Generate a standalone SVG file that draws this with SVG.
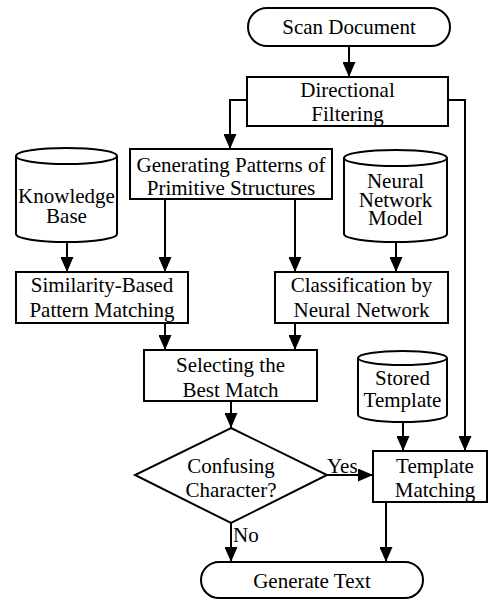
<svg xmlns="http://www.w3.org/2000/svg" width="489" height="600" viewBox="0 0 489 600">
<style>
.s{fill:#fff;stroke:#000;stroke-width:2}
.c{fill:none;stroke:#000;stroke-width:2}
</style>
<defs>
<marker id="a" viewBox="0 0 15 13" refX="15" refY="6.5" markerWidth="15" markerHeight="13" markerUnits="userSpaceOnUse" orient="auto">
<path d="M0,0 L15,6.5 L0,13 Z" fill="#000"/>
</marker>
</defs>
<g id="connectors" class="c" marker-end="url(#a)">
<path d="M349,46 V77"/>
<path d="M247,100 H230 V149"/>
<path d="M448,100 H465 V451"/>
<path d="M67,242 V272"/>
<path d="M165,199 V272"/>
<path d="M295,199 V272"/>
<path d="M396,242 V272"/>
<path d="M165,323 V350"/>
<path d="M295,323 V350"/>
<path d="M231,401 V428"/>
<path d="M327,475 H373"/>
<path d="M403,422 V451"/>
<path d="M231,523 V562"/>
<path d="M386,502 V562"/>
</g>
<g id="scan">
<rect class="s" x="248" y="8" width="202" height="38" rx="19" ry="19"/>
<text font-family="Liberation Serif" font-size="21" text-anchor="middle" x="349" y="34">Scan Document</text>
</g>
<g id="directional">
<rect class="s" x="247" y="77" width="201" height="49"/>
<text font-family="Liberation Serif" font-size="21" text-anchor="middle" x="347.5" y="97">Directional</text>
<text font-family="Liberation Serif" font-size="21" text-anchor="middle" x="347.5" y="121">Filtering</text>
</g>
<g id="generating">
<rect class="s" x="130" y="149" width="202" height="50"/>
<text font-family="Liberation Serif" font-size="21" text-anchor="middle" x="231" y="172">Generating Patterns of</text>
<text font-family="Liberation Serif" font-size="21" text-anchor="middle" x="231" y="195">Primitive Structures</text>
</g>
<g id="knowledge">
<path class="s" d="M16,156 V234 A50.5,8 0 0 0 117,234 V156"/>
<ellipse class="s" cx="66.5" cy="156" rx="50.5" ry="8"/>
<text font-family="Liberation Serif" font-size="21" text-anchor="middle" x="66.5" y="203">Knowledge</text>
<text font-family="Liberation Serif" font-size="21" text-anchor="middle" x="66.5" y="223">Base</text>
</g>
<g id="neural">
<path class="s" d="M344,158 V234 A51.5,8 0 0 0 447,234 V158"/>
<ellipse class="s" cx="395.5" cy="158" rx="51.5" ry="8"/>
<text font-family="Liberation Serif" font-size="21" text-anchor="middle" x="395.5" y="188">Neural</text>
<text font-family="Liberation Serif" font-size="21" text-anchor="middle" x="395.5" y="207">Network</text>
<text font-family="Liberation Serif" font-size="21" text-anchor="middle" x="395.5" y="225">Model</text>
</g>
<g id="similarity">
<rect class="s" x="16" y="272" width="172" height="51"/>
<text font-family="Liberation Serif" font-size="21" text-anchor="middle" x="102" y="292">Similarity-Based</text>
<text font-family="Liberation Serif" font-size="21" text-anchor="middle" x="102" y="317">Pattern Matching</text>
</g>
<g id="classification">
<rect class="s" x="275" y="272" width="173" height="51"/>
<text font-family="Liberation Serif" font-size="21" text-anchor="middle" x="361.5" y="292">Classification by</text>
<text font-family="Liberation Serif" font-size="21" text-anchor="middle" x="361.5" y="317">Neural Network</text>
</g>
<g id="selecting">
<rect class="s" x="144" y="350" width="173" height="51"/>
<text font-family="Liberation Serif" font-size="21" text-anchor="middle" x="230.5" y="372">Selecting the</text>
<text font-family="Liberation Serif" font-size="21" text-anchor="middle" x="230.5" y="397">Best Match</text>
</g>
<g id="stored">
<path class="s" d="M358,358 V415 A44.5,7 0 0 0 447,415 V358"/>
<ellipse class="s" cx="402.5" cy="358" rx="44.5" ry="7"/>
<text font-family="Liberation Serif" font-size="21" text-anchor="middle" x="402.5" y="385">Stored</text>
<text font-family="Liberation Serif" font-size="21" text-anchor="middle" x="402.5" y="407">Template</text>
</g>
<g id="confusing">
<polygon class="s" points="231,428 327,475 231,523 135,475"/>
<text font-family="Liberation Serif" font-size="21" text-anchor="middle" x="231" y="473">Confusing</text>
<text font-family="Liberation Serif" font-size="21" text-anchor="middle" x="231" y="497">Character?</text>
</g>
<g id="template">
<rect class="s" x="373" y="451" width="114" height="51"/>
<text font-family="Liberation Serif" font-size="21" text-anchor="middle" x="435" y="473">Template</text>
<text font-family="Liberation Serif" font-size="21" text-anchor="middle" x="435" y="497">Matching</text>
</g>
<g id="generate">
<rect class="s" x="201" y="562" width="222" height="36" rx="18" ry="18"/>
<text font-family="Liberation Serif" font-size="21" text-anchor="middle" x="312" y="588">Generate Text</text>
</g>
<g id="labels">
<text font-family="Liberation Serif" font-size="21" x="327" y="473">Yes</text>
<text font-family="Liberation Serif" font-size="21" x="233" y="542">No</text>
</g>
</svg>
